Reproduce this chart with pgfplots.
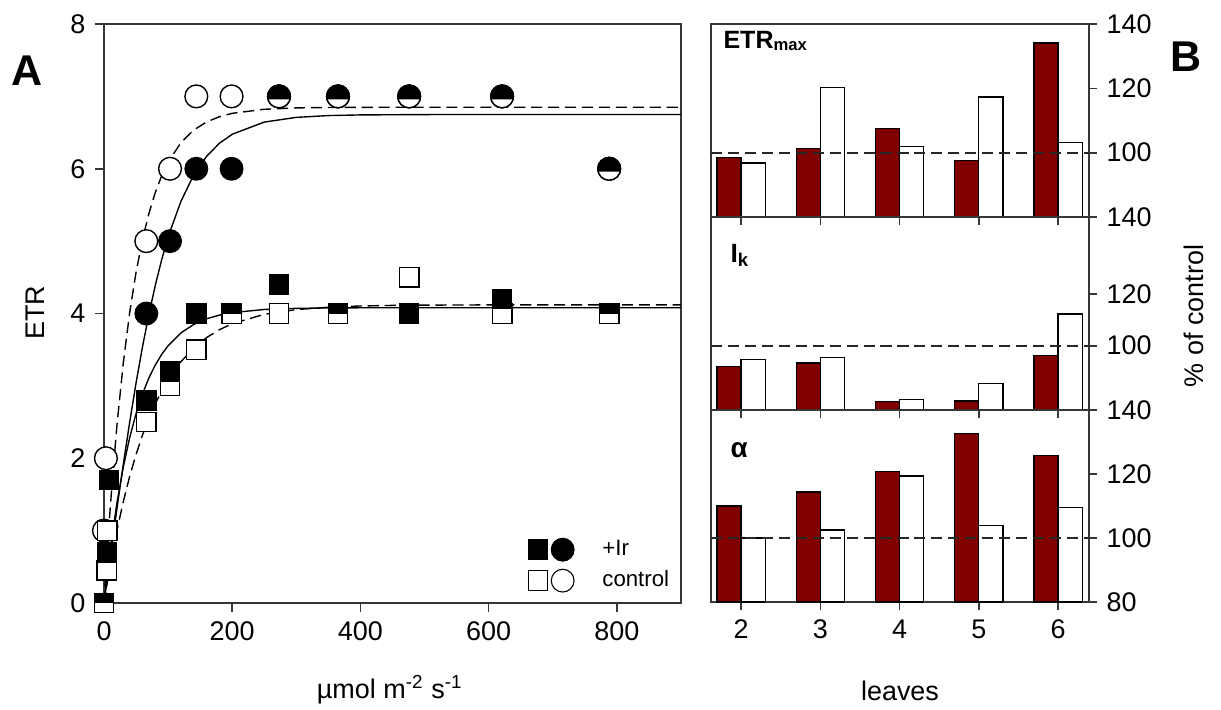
\documentclass[border=0pt]{standalone}
\usepackage{fontspec}
\setmainfont{Liberation Sans}
\usepackage{pgfplots}
\pgfplotsset{compat=1.18}
\definecolor{barred}{RGB}{128,0,0}
\definecolor{axgray}{RGB}{55,55,55}

% overlapping points of the two treatments (SigmaPlot draws them half filled)
\pgfdeclareplotmark{halfo}{%
  \pgfpathcircle{\pgfpointorigin}{\pgfplotmarksize}%
  \pgfsetfillcolor{white}\pgfusepath{fill}%
  \pgfpathmoveto{\pgfpointpolar{-15}{\pgfplotmarksize}}%
  \pgfpatharc{-15}{195}{\pgfplotmarksize}%
  \pgfpathclose
  \pgfsetfillcolor{black}\pgfusepath{fill}%
  \pgfpathcircle{\pgfpointorigin}{\pgfplotmarksize}%
  \pgfusepath{stroke}%
}
\pgfdeclareplotmark{halfsq}{%
  \pgfpathrectangle{\pgfpoint{-\pgfplotmarksize}{-\pgfplotmarksize}}{\pgfpoint{2\pgfplotmarksize}{2\pgfplotmarksize}}%
  \pgfsetfillcolor{white}\pgfusepath{fill}%
  \pgfpathrectangle{\pgfpoint{-\pgfplotmarksize}{0pt}}{\pgfpoint{2\pgfplotmarksize}{\pgfplotmarksize}}%
  \pgfsetfillcolor{black}\pgfusepath{fill}%
  \pgfpathrectangle{\pgfpoint{-\pgfplotmarksize}{-\pgfplotmarksize}}{\pgfpoint{2\pgfplotmarksize}{2\pgfplotmarksize}}%
  \pgfusepath{stroke}%
}

\newcommand{\tickfont}{\fontsize{9.7}{11}\selectfont}
\pgfplotsset{
  common/.style={scale only axis, anchor=south west, tick align=outside,
    axis line style={axgray, line width=0.6pt},
    tick style={axgray, line width=0.6pt},
    ticklabel style={font=\tickfont},
    /pgf/number format/assume math mode=true},
  rpanel/.style={common, width=136.08pt,
    xmin=1.62, xmax=6.39, xtick={2,...,6},
    xtick pos=bottom, ytick pos=right, yticklabel pos=right,
    major tick length=2.8pt},
  ir/.style={ybar, bar width=0.305, bar shift=-0.1525, fill=barred, draw=black, line width=0.45pt},
  ctl/.style={ybar, bar width=0.305, bar shift=0.1525, fill=white, draw=black, line width=0.45pt},
  ref/.style={sharp plot, black!85, line width=0.6pt, dash pattern=on 4pt off 2.1pt},
}

\begin{document}
\begin{tikzpicture}
\useasboundingbox (0,0) rectangle (439.56pt,255.24pt);

% ---------------- panel A ----------------
\begin{axis}[common, at={(37.44pt,38.16pt)},
  width=207.72pt, height=208.44pt,
  xmin=0, xmax=900, ymin=0, ymax=8,
  xtick={0,200,...,800}, ytick={0,2,...,8},
  xtick pos=bottom, ytick pos=left, major tick length=3.2pt,
  clip=false,
  legend style={at={(rel axis cs:0.99,0)}, anchor=south east, yshift=2.2pt,
    draw=none, fill=none, inner sep=0pt, row sep=0pt,
    font=\fontsize{8}{9.5}\selectfont,
    /tikz/every odd column/.append style={column sep=8pt}},
  legend cell align=left]
\addlegendimage{legend image code/.code={\draw[black,fill=black] (0pt,-3.5pt) rectangle (7pt,3.5pt); \draw[black,fill=black] (12.4pt,0pt) circle (4.1pt);}}
\addlegendentry{+Ir}
\addlegendimage{legend image code/.code={\draw[black,fill=white] (0pt,-3.5pt) rectangle (7pt,3.5pt); \draw[black,fill=white] (12.4pt,0pt) circle (4.1pt);}}
\addlegendentry{control}

% control (open)
\addplot[only marks, mark=*, mark size=4.1pt, mark options={fill=white, draw=black, line width=0.5pt}] coordinates {
 (0,1.0) (3,2.0) (66,5.0) (103,6.0) (144,7.0) (199,7.0) (273,7.0) (365,7.0) (476,7.0) (621,7.0) (788,6.0)};
\addplot[only marks, mark=square*, mark size=3.5pt, mark options={fill=white, draw=black, line width=0.5pt}] coordinates {
 (0,0) (4,0.45) (5,1.0) (66,2.5) (103,3.0) (144,3.5) (199,4.0) (273,4.0) (365,4.0) (476,4.5) (621,4.0) (788,4.0)};
% +Ir (filled)
\addplot[only marks, mark=*, mark size=4.1pt, mark options={fill=black, draw=black}] coordinates {
 (66,4.0) (103,5.0) (144,6.0) (199,6.0) (273,7.0) (365,7.0) (476,7.0) (621,7.0) (788,6.0)};
\addplot[only marks, mark=square*, mark size=3.5pt, mark options={fill=black, draw=black}] coordinates {
 (0,0) (5,0.7) (8,1.7) (66,2.8) (103,3.2) (144,4.0) (199,4.0) (273,4.4) (365,4.0) (476,4.0) (621,4.2) (788,4.0)};
% coincident points
\addplot[only marks, mark=halfo, mark size=4.1pt, black, line width=0.5pt] coordinates {
 (273,7.0) (365,7.0) (476,7.0) (621,7.0) (788,6.0)};
\addplot[only marks, mark=halfsq, mark size=3.5pt, black, line width=0.5pt] coordinates {
 (0,0) (199,4.0) (365,4.0) (788,4.0)};

% fitted curves
\addplot[black, line width=0.5pt, dash pattern=on 4pt off 2.1pt] coordinates {
 (0,0) (5,0.714) (10,1.353) (20,2.439) (30,3.309) (40,4.009) (50,4.570) (60,5.020) (70,5.381) (80,5.672) (90,5.904) (100,6.091) (120,6.361) (140,6.535) (160,6.647) (180,6.719) (200,6.766) (250,6.822) (300,6.841) (350,6.847) (400,6.849) (500,6.850) (900,6.850)};
\addplot[black, line width=0.5pt] coordinates {
 (0,0) (5,0.327) (10,0.653) (20,1.293) (30,1.910) (40,2.495) (50,3.040) (60,3.538) (70,3.987) (80,4.388) (90,4.743) (100,5.060) (120,5.550) (140,5.915) (160,6.172) (180,6.352) (200,6.477) (250,6.645) (300,6.710) (350,6.735) (400,6.744) (500,6.749) (900,6.750)};
\addplot[black, line width=0.5pt] coordinates {
 (0,0) (5,0.397) (10,0.756) (20,1.372) (30,1.874) (40,2.283) (50,2.616) (60,2.887) (70,3.109) (80,3.288) (90,3.435) (100,3.555) (120,3.732) (140,3.849) (160,3.927) (180,3.978) (200,4.012) (250,4.056) (300,4.071) (350,4.077) (400,4.079) (500,4.080) (900,4.080)};
\addplot[black, line width=0.5pt, dash pattern=on 4pt off 2.1pt] coordinates {
 (0,0) (5,0.275) (10,0.531) (20,0.994) (30,1.397) (40,1.748) (50,2.053) (60,2.320) (70,2.552) (80,2.754) (90,2.930) (100,3.083) (120,3.334) (140,3.523) (160,3.667) (180,3.776) (200,3.859) (250,3.989) (300,4.054) (350,4.087) (400,4.104) (450,4.112) (500,4.116) (600,4.119) (900,4.120)};
\end{axis}

% ---------------- panel B: ETRmax ----------------
\begin{axis}[rpanel, at={(255.96pt,177.12pt)}, height=69.48pt,
  ymin=80, ymax=140, ytick={80,100,120,140}, yticklabels={,100,120,140},
  xticklabels={}]
\addplot[ir] coordinates {(2,98.4) (3,101.3) (4,107.6) (5,97.6) (6,134.1)};
\addplot[ctl] coordinates {(2,96.8) (3,120.2) (4,101.9) (5,117.3) (6,103.1)};
\addplot[ref] coordinates {(1.62,100) (6.39,100)};
\end{axis}

% ---------------- panel B: Ik ----------------
\begin{axis}[rpanel, at={(255.96pt,107.64pt)}, height=69.48pt,
  ymin=75, ymax=150, ytick={75,100,120,150}, yticklabels={,100,120,140},
  xticklabels={}]
\addplot[ir] coordinates {(2,91.8) (3,93.3) (4,78.3) (5,78.5) (6,96.3)};
\addplot[ctl] coordinates {(2,94.6) (3,95.5) (4,79.2) (5,85.4) (6,112.3)};
\addplot[ref] coordinates {(1.62,100) (6.39,100)};
\end{axis}

% ---------------- panel B: alpha ----------------
\begin{axis}[rpanel, at={(255.96pt,38.52pt)}, height=69.12pt,
  ymin=80, ymax=140, ytick={80,100,120,140}]
\addplot[ir] coordinates {(2,110.0) (3,114.4) (4,120.8) (5,132.7) (6,125.7)};
\addplot[ctl] coordinates {(2,100.0) (3,102.5) (4,119.4) (5,104.0) (6,109.5)};
\addplot[ref] coordinates {(1.62,100) (6.39,100)};
\end{axis}

% ---------------- texts ----------------
\node[font=\fontsize{15.5}{17}\selectfont\bfseries] at (9.72pt,229.68pt) {A};
\node[font=\fontsize{15.5}{17}\selectfont\bfseries] at (426.96pt,234.72pt) {B};
\node[font=\tickfont, rotate=90] at (12.6pt,142.56pt) {ETR};
\node[font=\tickfont] at (140.4pt,6.84pt) {µmol m\textsuperscript{-2} s\textsuperscript{-1}};
\node[font=\tickfont] at (324pt,6.48pt) {leaves};
\node[font=\tickfont, rotate=90] at (429.8pt,141.5pt) {\% of control};
\node[font=\fontsize{9}{10}\selectfont\bfseries, anchor=base west, inner sep=0pt] at (260.28pt,237.96pt) {ETR\textsubscript{max}};
\node[font=\fontsize{9.5}{10}\selectfont\bfseries, anchor=base west, inner sep=0pt] at (262.8pt,160.92pt) {I\textsubscript{k}};
\node[font=\fontsize{10}{10}\selectfont\bfseries, anchor=base west, inner sep=0pt] at (262.8pt,90.72pt) {α};
\end{tikzpicture}
\end{document}
